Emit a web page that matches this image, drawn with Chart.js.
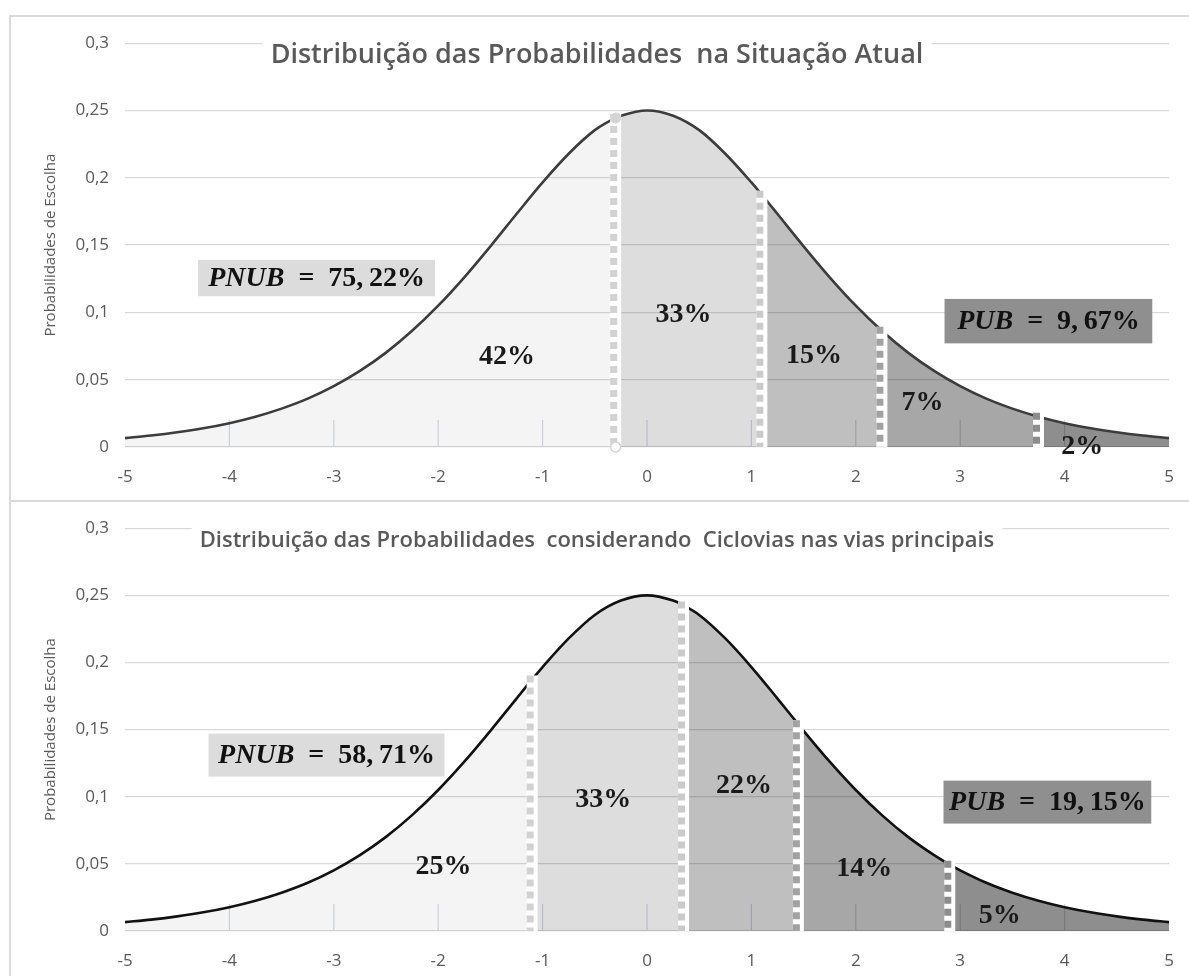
<!DOCTYPE html>
<html lang="pt">
<head>
  <meta charset="UTF-8" />
  <title>Distribuição das Probabilidades</title>
  <script src="https://cdn.jsdelivr.net/npm/chart.js"></script>
  <style>
    body {
      margin: 0;
      background: #fff;
      font-family: 'Open Sans', sans-serif;
    }
    .frame {
      position: absolute;
      left: 9px;
      top: 15px;
      width: 1180px;
      height: 961px;
      border-top: 2px solid #dadada;
      border-left: 2px solid #dadada;
      box-sizing: border-box;
    }
    .divider {
      position: absolute;
      left: 9px;
      top: 500px;
      width: 1180px;
      height: 2px;
      background: #dadada;
    }
    .panel {
      position: absolute;
      left: 11px;
      width: 1178px;
    }
    #topPanel { top: 17px; height: 483px; }
    #bottomPanel { top: 502px; height: 474px; }
  </style>
</head>
<body>
  <div class="frame"></div>
  <div class="divider"></div>
  <div class="panel" id="topPanel"><canvas id="topChart"></canvas></div>
  <div class="panel" id="bottomPanel"><canvas id="bottomChart"></canvas></div>

  <script>
    // curve (same shape in both panels)
    const curveX = [-5, -4.75, -4.5, -4.25, -4, -3.75, -3.5, -3.25, -3, -2.75, -2.5, -2.25, -2, -1.75, -1.5, -1.25, -1, -0.75, -0.5, -0.25,
                    0, 0.25, 0.5, 0.75, 1, 1.25, 1.5, 1.75, 2, 2.25, 2.5, 2.75, 3, 3.25, 3.5, 3.75, 4, 4.25, 4.5, 4.75, 5];
    const curveY = [0.0066, 0.0085, 0.0109, 0.0139, 0.0177, 0.0225, 0.0285, 0.0359, 0.0452, 0.0565, 0.0701, 0.0863, 0.105, 0.1261, 0.1491, 0.1731, 0.1966, 0.2179, 0.2354, 0.2461,
                    0.25, 0.2461, 0.2354, 0.2179, 0.1966, 0.1731, 0.1491, 0.1261, 0.105, 0.0863, 0.0701, 0.0565, 0.0452, 0.0359, 0.0285, 0.0225, 0.0177, 0.0139, 0.0109, 0.0085, 0.0066];

    const xTickText = ['-5', '-4', '-3', '-2', '-1', '0', '1', '2', '3', '4', '5'];
    const yTickText = ['0', '0,05', '0,1', '0,15', '0,2', '0,25', '0,3'];
    const yTitle = 'Probabilidades de Escolha';

    // top panel: situação atual
    const topTitle = 'Distribuição das Probabilidades  na Situação Atual';
    const topCutX = [-0.3, 1.1, 2.25, 3.75];
    const topCutY = [0.2445, 0.1874, 0.0863, 0.0225];
    const topShares = ['42%', '33%', '15%', '7%', '2%'];
    const topPNUB = '75,22%';
    const topPUB = '9,67%';

    // bottom panel: ciclovias
    const bottomTitle = 'Distribuição das Probabilidades  considerando  Ciclovias nas vias principais';
    const bottomCutX = [-1.1, 0.35, 1.45, 2.9];
    const bottomCutY = [0.1874, 0.2425, 0.1539, 0.0494];
    const bottomShares = ['25%', '33%', '22%', '14%', '5%'];
    const bottomPNUB = '58,71%';
    const bottomPUB = '19,15%';

    // styling / placement
    const regionFills = ['rgba(0,0,0,0.045)', 'rgba(0,0,0,0.135)', 'rgba(0,0,0,0.25)', 'rgba(0,0,0,0.345)', 'rgba(0,0,0,0.445)'];
    const cutColors = ['#d2d2d2', '#cacaca', '#a2a2a2', '#8c8c8c'];
    const topSharePos = [[-1.34, 0.067], [0.35, 0.0985], [1.6, 0.068], [2.64, 0.0326], [4.17, 0.0]];
    const bottomSharePos = [[-1.95, 0.048], [-0.42, 0.098], [0.93, 0.108], [2.08, 0.046], [3.38, 0.011]];
    const topBoxes = [[-4.3, -2.03, 0.139, 0.112, '#dcdcdc'], [2.85, 4.84, 0.110, 0.077, '#8f8f8f']];
    const bottomBoxes = [[-4.2, -1.94, 0.147, 0.115, '#dcdcdc'], [2.84, 4.83, 0.112, 0.080, '#8f8f8f']];

    const serif = '"Liberation Serif", "DejaVu Serif", serif';

    function mergedCurve(cutX, cutY) {
      const pts = curveX.map((x, i) => ({ x: x, y: curveY[i] }));
      cutX.forEach((x, i) => {
        if (!curveX.includes(x)) pts.push({ x: x, y: cutY[i] });
      });
      return pts.sort((a, b) => a.x - b.x);
    }

    const decor = {
      id: 'decor',
      beforeDatasetsDraw(chart, args, o) {
        const { ctx, scales: { x, y } } = chart;
        const y0 = y.getPixelForValue(0);
        ctx.save();
        ctx.strokeStyle = '#d3d9e1';
        ctx.lineWidth = 1.2;
        for (let v = -4; v <= 4; v++) {
          const px = x.getPixelForValue(v);
          ctx.beginPath();
          ctx.moveTo(px, y0);
          ctx.lineTo(px, y0 - 27);
          ctx.stroke();
        }
        ctx.restore();
      },
      afterDatasetsDraw(chart, args, o) {
        const { ctx, scales: { x, y } } = chart;
        const y0 = y.getPixelForValue(0);
        ctx.save();

        // dashed separators
        o.cutX.forEach((cx, i) => {
          const px = x.getPixelForValue(cx);
          const top = y.getPixelForValue(o.cutY[i]) - 4;
          ctx.setLineDash([]);
          ctx.strokeStyle = '#ffffff';
          ctx.lineWidth = 11;
          ctx.beginPath();
          ctx.moveTo(px, y0);
          ctx.lineTo(px, top);
          ctx.stroke();
          ctx.setLineDash([7, 5]);
          ctx.strokeStyle = cutColors[i];
          ctx.lineWidth = 7;
          ctx.beginPath();
          ctx.moveTo(px - 2, top);
          ctx.lineTo(px - 2, y0);
          ctx.stroke();
        });
        ctx.setLineDash([]);

        // small markers on the first separator
        if (o.marks) {
          const px = x.getPixelForValue(o.cutX[0]);
          ctx.lineWidth = 1.5;
          ctx.strokeStyle = '#d4d4d4';
          ctx.fillStyle = '#ffffff';
          ctx.beginPath();
          ctx.arc(px, y0, 5, 0, Math.PI * 2);
          ctx.fill();
          ctx.stroke();
          ctx.fillStyle = '#d4d4d4';
          ctx.beginPath();
          ctx.arc(px, y.getPixelForValue(o.cutY[0]), 5.5, 0, Math.PI * 2);
          ctx.fill();
        }

        // share labels
        ctx.fillStyle = '#1a1a1a';
        ctx.font = 'bold 28px ' + serif;
        ctx.textAlign = 'center';
        ctx.textBaseline = 'middle';
        o.shares.forEach((s, i) => {
          ctx.fillText(s, x.getPixelForValue(o.sharePos[i][0]), y.getPixelForValue(o.sharePos[i][1]));
        });

        // PNUB / PUB boxes
        const names = ['PNUB', 'PUB'];
        o.boxes.forEach((b, i) => {
          const l = x.getPixelForValue(b[0]), r = x.getPixelForValue(b[1]);
          const t = y.getPixelForValue(b[2]), btm = y.getPixelForValue(b[3]);
          ctx.fillStyle = b[4];
          ctx.fillRect(l, t, r - l, btm - t);
          const rest = '\u2002=\u2002' + o.values[i].replace(',', ',\u2009');
          ctx.font = 'italic bold 28px ' + serif;
          const w1 = ctx.measureText(names[i]).width;
          ctx.font = 'bold 28px ' + serif;
          const w2 = ctx.measureText(rest).width;
          const tx = (l + r) / 2 - (w1 + w2) / 2;
          const ty = (t + btm) / 2 + 1;
          ctx.textAlign = 'left';
          ctx.fillStyle = '#111';
          ctx.font = 'italic bold 28px ' + serif;
          ctx.fillText(names[i], tx, ty);
          ctx.font = 'bold 28px ' + serif;
          ctx.fillText(rest, tx + w1, ty);
        });

        // title over the top grid line
        ctx.font = '600 ' + o.titleSize + 'px "Open Sans", sans-serif';
        const tw = ctx.measureText(o.title).width;
        const cx = chart.width / 2 - 3;
        const cy = y.getPixelForValue(0.3) + o.titleDy;
        ctx.fillStyle = '#fff';
        ctx.fillRect(cx - tw / 2 - 8, y.getPixelForValue(0.3) - 3, tw + 16, 6);
        ctx.fillStyle = '#595959';
        ctx.textAlign = 'center';
        ctx.fillText(o.title, cx, cy);
        ctx.restore();
      }
    };

    function makeChart(id, cutX, cutY, title, titleSize, shares, sharePos, boxes, pnub, pub, lineColor, padTop, xHeight, titleDy, marks) {
      const pts = mergedCurve(cutX, cutY);
      const bounds = [-5].concat(cutX, [5]);
      const datasets = [{
        type: 'line',
        data: pts,
        borderColor: lineColor,
        borderWidth: 2.6,
        pointRadius: 0,
        cubicInterpolationMode: 'monotone',
        fill: false,
        order: 0
      }];
      for (let i = 0; i < bounds.length - 1; i++) {
        datasets.push({
          type: 'line',
          data: pts.filter(p => p.x >= bounds[i] && p.x <= bounds[i + 1]),
          borderWidth: 0,
          pointRadius: 0,
          cubicInterpolationMode: 'monotone',
          backgroundColor: regionFills[i],
          fill: 'origin',
          order: 2
        });
      }

      return new Chart(document.getElementById(id), {
        data: { datasets: datasets },
        options: {
          responsive: true,
          maintainAspectRatio: false,
          animation: false,
          layout: { padding: { top: padTop, right: 20, left: 0, bottom: 0 } },
          plugins: {
            legend: { display: false },
            tooltip: { enabled: false },
            decor: {
              cutX: cutX, cutY: cutY, title: title, titleSize: titleSize, titleDy: titleDy, marks: marks,
              shares: shares, sharePos: sharePos, boxes: boxes, values: [pnub, pub]
            }
          },
          scales: {
            x: {
              type: 'linear',
              min: -5,
              max: 5,
              grid: { display: false },
              border: { display: false },
              ticks: {
                stepSize: 1,
                padding: 12,
                color: '#595959',
                font: { family: 'Open Sans', size: 17 },
                callback: (v, i) => xTickText[i]
              },
              afterFit: s => { s.height = xHeight; }
            },
            y: {
              min: 0,
              max: 0.3,
              grid: { color: '#d9d9d9', lineWidth: 1.3, drawTicks: false },
              border: { display: false },
              ticks: {
                stepSize: 0.05,
                padding: 16,
                color: '#595959',
                font: { family: 'Open Sans', size: 17 },
                callback: (v, i) => yTickText[i]
              },
              title: {
                display: true,
                text: yTitle,
                color: '#595959',
                font: { family: 'Open Sans', size: 15 },
                padding: { top: 31, bottom: 0 }
              },
              afterFit: s => { s.width = 114; }
            }
          }
        },
        plugins: [decor]
      });
    }

    makeChart('topChart', topCutX, topCutY, topTitle, 27, topShares, topSharePos, topBoxes, topPNUB, topPUB, '#3c3c3c', 22, 53, 12, true);
    makeChart('bottomChart', bottomCutX, bottomCutY, bottomTitle, 22, bottomShares, bottomSharePos, bottomBoxes, bottomPNUB, bottomPUB, '#111111', 21, 45, 13, false);
  </script>
</body>
</html>
